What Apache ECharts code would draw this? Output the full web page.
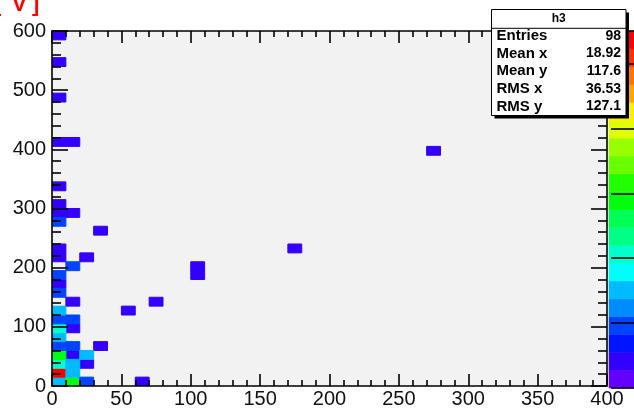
<!DOCTYPE html>
<html><head><meta charset="utf-8">
<script src="https://cdn.jsdelivr.net/npm/echarts@6/dist/echarts.min.js"></script>
<style>html,body{margin:0;padding:0;background:#fff}#c{width:634px;height:409px}</style>
</head><body><div id="c"></div>
<script>
// ---- data (bin lower edges and bin contents) ----
const binW = 10;
const binH = 15;
const cellX = [0,0,0,0,10,0,0,0,10,30,0,0,20,0,10,70,50,10,30,10,20,60,100,100,170,270,
               0,0,0,0,0,0,0,0,0,0,0,0,
               10,10,10,10,10,10,
               20,20];
const cellY = [585,540,480,405,405,330,300,285,285,255,225,210,210,165,135,135,120,90,60,45,30,0,180,195,225,390,
               0,15,30,45,60,75,90,105,120,150,180,270,
               0,15,30,60,105,195,
               0,45];
const cellCount = [1,1,1,1,1,1,1,1,1,1,1,1,1,1,1,1,1,1,1,1,1,1,1,1,1,1,
                   3,11,4,6,2,3,4,2,3,2,2,2,
                   6,3,3,2,2,2,
                   2,3];
const xRange = [0, 400];
const yRange = [0, 600];
const zMax = 11;
const nLevels = 20;
const paletteColors = ['#6300ff','#3300ff','#0014ff','#0044ff','#008bff','#00bbff','#00fffc','#00ffcc','#00ff85','#00ff55',
                       '#00ff0e','#22ff00','#69ff00','#99ff00','#e0ff00','#ffee00','#ffa700','#ff7700','#ff3000','#ff0000'];
const histName = 'h3';
const statLabels = ['Entries','Mean x','Mean y','RMS x','RMS y'];
const statValues = ['98','18.92','117.6','36.53','127.1'];
const axisUnit = ['[', 'V', ']'];

const FONT = 'Liberation Sans, Arial, Helvetica, sans-serif';
const cellData = cellX.map((x, i) => [x, cellY[i], cellCount[i]]);
const paletteData = paletteColors.map((c, i) => [0, i]);
function levelColor(v) {
  const L = Math.min(nLevels - 1, Math.floor(0.01 + v * nLevels / zMax));
  return paletteColors[L];
}
const blk = {color: '#000', width: 1.6};
function frameAxis(extra) {
  return Object.assign({
    type: 'value', gridIndex: 0, z: 5,
    axisLine: {show: true, onZero: false, lineStyle: blk},
    axisTick: {show: true, inside: true, lineStyle: blk},
    minorTick: {show: true, splitNumber: 5, lineStyle: blk},
    splitLine: {show: false}, minorSplitLine: {show: false}
  }, extra);
}
const chart = echarts.init(document.getElementById('c'), null, {renderer: 'canvas'});
const statsGraphics = [];
const bx = 491.5, by = 9.5, bw = 134.5, bh = 106;
statsGraphics.push({type: 'rect', z: 100, shape: {x: bx + 3, y: by + 3, width: bw, height: bh}, style: {fill: '#000'}});
statsGraphics.push({type: 'rect', z: 101, shape: {x: bx, y: by, width: bw, height: bh}, style: {fill: '#fff', stroke: '#000', lineWidth: 1}});
statsGraphics.push({type: 'line', z: 102, shape: {x1: bx, y1: 28.3, x2: bx + bw, y2: 28.3}, style: {stroke: '#000', lineWidth: 1}});
statsGraphics.push({type: 'text', z: 103, x: bx + bw / 2, y: 19, style: {text: histName, font: 'bold 12px ' + FONT, fill: '#000', align: 'center', verticalAlign: 'middle'}});
const rowY = [36, 53.6, 71.2, 88.8, 106.4];
statLabels.forEach((s, i) => {
  statsGraphics.push({type: 'text', z: 103, x: bx + 5, y: rowY[i], style: {text: s, font: 'bold 15px ' + FONT, fill: '#000', align: 'left', verticalAlign: 'middle'}});
  statsGraphics.push({type: 'text', z: 103, x: bx + bw - 5, y: rowY[i], style: {text: statValues[i], font: 'bold 14px ' + FONT, fill: '#000', align: 'right', verticalAlign: 'middle'}});
});
const unitX = [-6, 12, 32];
axisUnit.forEach((s, i) => {
  statsGraphics.push({type: 'text', z: 103, x: unitX[i], y: 16, style: {text: s, font: 'bold 22px ' + FONT, fill: '#ff0000', align: 'left', verticalAlign: 'bottom'}});
});

chart.setOption({
  animation: false,
  backgroundColor: '#fff',
  grid: [
    {left: 52, top: 31, width: 555, height: 357, show: true, backgroundColor: '#f2f2f2', borderWidth: 0},
    {left: 609, top: 31, width: 36, height: 357, show: false}
  ],
  xAxis: [
    frameAxis({position: 'bottom', min: xRange[0], max: xRange[1], interval: 50,
      axisTick: {show: true, inside: true, length: 12, lineStyle: blk},
      minorTick: {show: true, splitNumber: 5, length: 6, lineStyle: blk},
      axisLabel: {show: true, fontSize: 20, color: '#111', fontFamily: FONT, margin: 3}}),
    frameAxis({position: 'top', min: xRange[0], max: xRange[1], interval: 50,
      axisTick: {show: true, inside: true, length: 12, lineStyle: blk},
      minorTick: {show: true, splitNumber: 5, length: 6, lineStyle: blk},
      axisLabel: {show: false}}),
    {type: 'category', gridIndex: 1, data: ['p'], show: false, boundaryGap: true}
  ],
  yAxis: [
    frameAxis({position: 'left', min: yRange[0], max: yRange[1], interval: 100,
      axisTick: {show: true, inside: true, length: 16, lineStyle: blk},
      minorTick: {show: true, splitNumber: 5, length: 9, lineStyle: blk},
      axisLabel: {show: true, fontSize: 20, color: '#111', fontFamily: FONT, margin: 6}}),
    frameAxis({position: 'right', min: yRange[0], max: yRange[1], interval: 100,
      axisTick: {show: true, inside: true, length: 16, lineStyle: blk},
      minorTick: {show: true, splitNumber: 5, length: 9, lineStyle: blk},
      axisLabel: {show: false}}),
    {type: 'value', gridIndex: 1, position: 'right', min: 0, max: zMax, interval: 2, z: 5,
      axisLine: {show: false}, splitLine: {show: false},
      axisTick: {show: true, inside: true, length: 23, lineStyle: blk},
      axisLabel: {show: false}}
  ],
  series: [
    {
      type: 'custom', xAxisIndex: 0, yAxisIndex: 0, z: 2, data: cellData, clip: true,
      renderItem: function (params, api) {
        const x0 = api.value(0), y0 = api.value(1), v = api.value(2);
        const p0 = api.coord([x0, y0]);
        const p1 = api.coord([x0 + binW, y0 + binH]);
        const c = levelColor(v);
        return {type: 'rect', shape: {x: p0[0], y: p1[1], width: p1[0] - p0[0], height: p0[1] - p1[1]},
                style: {fill: c, stroke: c, lineWidth: 1}};
      }
    },
    {
      type: 'custom', xAxisIndex: 2, yAxisIndex: 2, z: 2, data: paletteData,
      renderItem: function (params, api) {
        const L = api.value(1);
        const lo = L * zMax / nLevels, hi = (L + 1) * zMax / nLevels;
        const p0 = api.coord([0, lo]);
        const p1 = api.coord([0, hi]);
        const w = api.size([1, 0])[0];
        return {type: 'rect', shape: {x: p0[0] - w / 2, y: p1[1], width: w, height: p0[1] - p1[1]},
                style: {fill: paletteColors[L], stroke: paletteColors[L], lineWidth: 0.6}};
      }
    }
  ],
  graphic: statsGraphics
});
</script></body></html>
